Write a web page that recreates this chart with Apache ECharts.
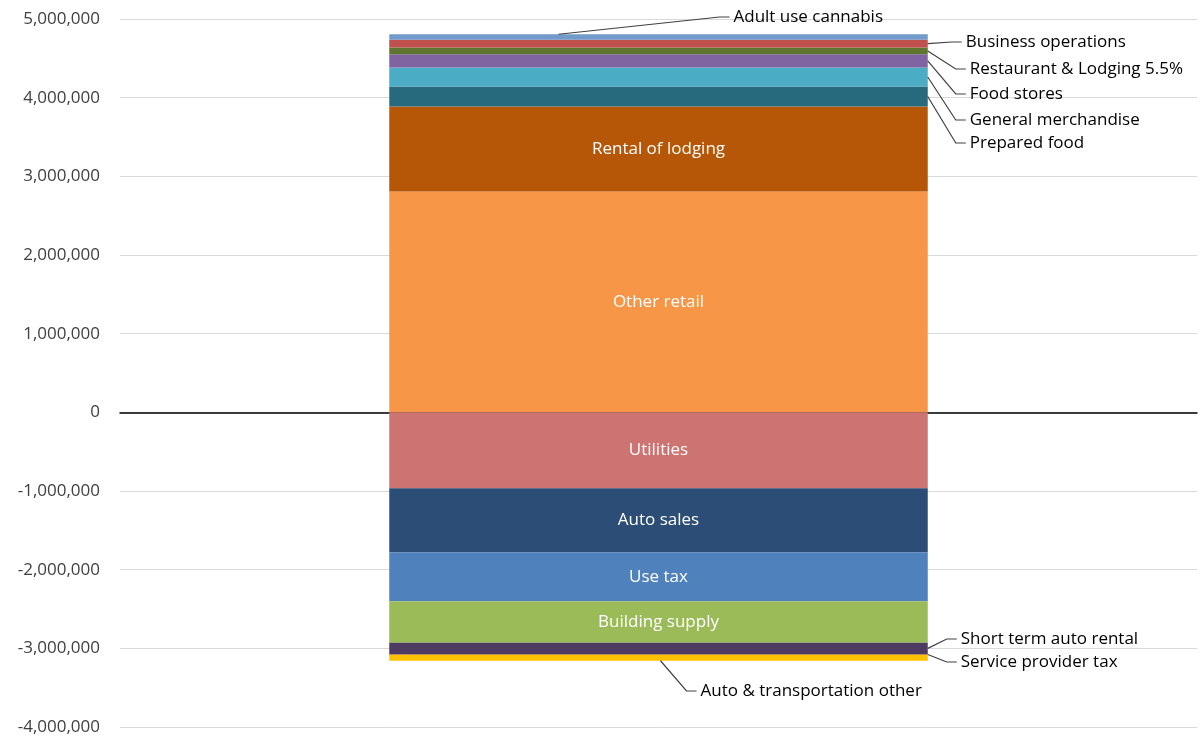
<!DOCTYPE html>
<html>
<head>
<meta charset="utf-8">
<script src="https://cdn.jsdelivr.net/npm/echarts@6/dist/echarts.min.js"></script>
<style>
  html, body { margin: 0; padding: 0; background: #fff; }
  #chart { width: 1201px; height: 737px; }
</style>
</head>
<body>
<div id="chart"></div>
<script>
// ---- Data ----
const categories = [''];
// Stack order: positive series build upward from zero, negative series build downward from zero
const seriesNames = [
  'Other retail', 'Utilities',
  'Rental of lodging', 'Auto sales',
  'Prepared food', 'Use tax',
  'General merchandise', 'Building supply',
  'Food stores', 'Short term auto rental',
  'Restaurant & Lodging 5.5%', 'Service provider tax',
  'Business operations', 'Auto & transportation other',
  'Adult use cannabis'
];
const seriesValues = [
  2808000, -966000,
  1080000, -813000,
  254000, -622000,
  241000, -527000,
  169000, -146000,
  85000, -8000,
  98000, -76000,
  71000
];
const yTicks = { min: -4000000, max: 5000000, interval: 1000000 };

// ---- Styles (not data) ----
const seriesColors = {
  'Other retail': '#F79646', 'Utilities': '#CD7371',
  'Rental of lodging': '#B65708', 'Auto sales': '#2C4D75',
  'Prepared food': '#276A7D', 'Use tax': '#4F81BD',
  'General merchandise': '#4BACC6', 'Building supply': '#9BBB59',
  'Food stores': '#8064A2', 'Short term auto rental': '#4D3B62',
  'Restaurant & Lodging 5.5%': '#5F7530', 'Service provider tax': '#772C2A',
  'Business operations': '#C0504D', 'Auto & transportation other': '#FFC000',
  'Adult use cannabis': '#729ACA'
};
const insideLabels = ['Other retail', 'Utilities', 'Rental of lodging', 'Auto sales', 'Use tax', 'Building supply'];
// outside label placement (pixels): 'right' = from bar's right edge, 'center' = from bar centre
const outsideLabelPos = {
  'Adult use cannabis': { from: 'center', dx: 75, y: 17, attachDx: -100, edge: 'outer' },
  'Business operations': { from: 'right', dx: 38, y: 42, edge: 'mid' },
  'Restaurant & Lodging 5.5%': { from: 'right', dx: 42, y: 69, edge: 'mid' },
  'Food stores': { from: 'right', dx: 42, y: 94, edge: 'mid' },
  'General merchandise': { from: 'right', dx: 42, y: 120, edge: 'mid' },
  'Prepared food': { from: 'right', dx: 42, y: 143, edge: 'mid' },
  'Short term auto rental': { from: 'right', dx: 33, y: 639, edge: 'mid' },
  'Service provider tax': { from: 'right', dx: 33, y: 662, edge: 'mid' },
  'Auto & transportation other': { from: 'center', dx: 42, y: 691, attachDx: 2, edge: 'outer' }
};
const FONT = 'Open Sans';
const FS = 17;
const BAR_FRACTION = 0.5;

const chart = echarts.init(document.getElementById('chart'), null, { renderer: 'canvas' });

const series = seriesNames.map(function (name, i) {
  const inside = insideLabels.indexOf(name) >= 0;
  const s = {
    name: name,
    type: 'bar',
    stack: 'total',
    barWidth: (BAR_FRACTION * 100) + '%',
    data: [seriesValues[i]],
    itemStyle: { color: seriesColors[name] },
    emphasis: { disabled: true },
    label: {
      show: true,
      formatter: function () { return name; },
      fontFamily: FONT,
      fontSize: FS,
      color: inside ? '#ffffff' : '#000000',
      position: inside ? 'inside' : 'right'
    }
  };
  if (!inside) {
    const p = outsideLabelPos[name];
    s.labelLayout = function (params) {
      const r = params.rect;
      const x = p.from === 'right' ? r.x + r.width + p.dx : r.x + r.width / 2 + p.dx;
      return { x: x, y: p.y, align: 'left', verticalAlign: 'middle' };
    };
  }
  return s;
});

// leader-line anchor values, derived from the stacked data (same-sign stacking)
const leaderData = [];
(function () {
  let pos = 0, neg = 0;
  seriesNames.forEach(function (name, i) {
    const v = seriesValues[i];
    const base = v >= 0 ? pos : neg;
    const top = base + v;
    if (v >= 0) pos = top; else neg = top;
    const p = outsideLabelPos[name];
    if (p) {
      const anchor = p.edge === 'mid' ? base + v / 2 : top;
      leaderData.push([0, anchor, i]);
    }
  });
})();

series.push({
  type: 'custom',
  name: 'leaders',
  silent: true,
  z: 5,
  data: leaderData,
  encode: { x: 0, y: 1 },
  renderItem: function (params, api) {
    const name = seriesNames[api.value(2)];
    const p = outsideLabelPos[name];
    const c = api.coord([api.value(0), api.value(1)]);
    const half = api.size([1, 0])[0] * BAR_FRACTION / 2;
    let ax, labelX;
    if (p.from === 'right') {
      ax = c[0] + half;
      labelX = c[0] + half + p.dx;
    } else {
      ax = c[0] + p.attachDx;
      labelX = c[0] + p.dx;
    }
    return {
      type: 'polyline',
      shape: { points: [[ax, c[1]], [labelX - 14, p.y], [labelX - 4, p.y]] },
      style: { stroke: '#404040', lineWidth: 1.2, fill: null }
    };
  }
});

chart.setOption({
  animation: false,
  backgroundColor: '#ffffff',
  grid: { left: 120, right: 4, top: 19, bottom: 10, containLabel: false },
  xAxis: {
    type: 'category',
    data: categories,
    axisTick: { show: false },
    axisLabel: { show: false },
    axisLine: { show: true, onZero: true, lineStyle: { color: '#000000', width: 1.5 } },
    splitLine: { show: false }
  },
  yAxis: {
    type: 'value',
    min: yTicks.min,
    max: yTicks.max,
    interval: yTicks.interval,
    axisLine: { show: false },
    axisTick: { show: false },
    axisLabel: {
      fontFamily: FONT,
      fontSize: FS,
      color: '#404040',
      margin: 20,
      formatter: function (v) { return v.toLocaleString('en-US'); }
    },
    splitLine: { show: true, lineStyle: { color: '#D9D9D9', width: 1 } }
  },
  series: series
});
</script>
</body>
</html>
